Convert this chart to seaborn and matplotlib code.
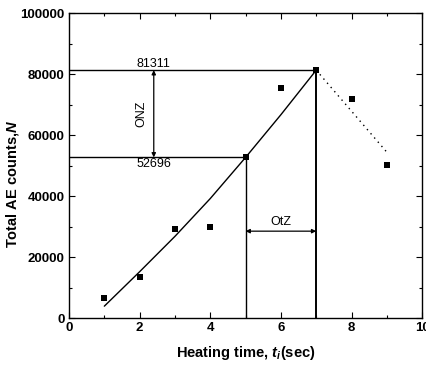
import matplotlib
matplotlib.use("Agg")
import matplotlib.pyplot as plt
import seaborn as sns
import pandas as pd
from matplotlib.ticker import MultipleLocator

# data
heating_time = [1, 2, 3, 4, 5, 6, 7, 8, 9]
ae_counts = [6500, 13400, 29200, 29800, 52696, 75600, 81311, 71800, 50200]
fit_x = [1, 2, 3, 4, 5, 6, 7]
fit_y = [3900, 15200, 26800, 39200, 52696, 66700, 81311]
drop_x = [7, 9]
drop_y = [81311, 54400]
level_hi = 81311
level_lo = 52696
t_lo = 5
t_hi = 7

sns.set_theme(style="ticks")
plt.rcParams['font.family'] = ['Liberation Sans', 'DejaVu Sans']
plt.rcParams['mathtext.fontset'] = 'custom'
plt.rcParams['mathtext.it'] = 'Liberation Sans:italic:bold'
plt.rcParams['mathtext.rm'] = 'Liberation Sans:bold'
for key in ['text.color', 'axes.labelcolor', 'xtick.color', 'ytick.color', 'axes.edgecolor']:
    plt.rcParams[key] = 'black'

fig = plt.figure(figsize=(4.26, 3.66), dpi=100)
ax = fig.add_axes([0.162, 0.131, 0.829, 0.833])

df = pd.DataFrame({"t": heating_time, "N": ae_counts})
sns.scatterplot(data=df, x="t", y="N", ax=ax, marker="s", s=22, color="black",
                edgecolor="black", linewidth=0, zorder=5)
sns.lineplot(x=fit_x, y=fit_y, ax=ax, color="black", linewidth=1.0)
sns.lineplot(x=drop_x, y=drop_y, ax=ax, color="black", linewidth=1.0, linestyle=(0, (1, 3)))

# guide lines
ax.plot([0, t_hi], [level_hi, level_hi], color="black", lw=1.0)
ax.plot([0, t_lo], [level_lo, level_lo], color="black", lw=1.0)
ax.plot([t_lo, t_lo], [0, level_lo], color="black", lw=1.0)
ax.plot([t_hi, t_hi], [0, level_hi], color="black", lw=1.4)

# arrows
ax.annotate("", xy=(2.4, level_hi), xytext=(2.4, level_lo),
            arrowprops=dict(arrowstyle="<|-|>", color="black", lw=0.9,
                            mutation_scale=6, shrinkA=0, shrinkB=0))
ax.annotate("", xy=(t_lo, 28500), xytext=(t_hi, 28500),
            arrowprops=dict(arrowstyle="<|-|>", color="black", lw=0.9,
                            mutation_scale=6, shrinkA=0, shrinkB=0))
ax.text(2.4, level_hi + 200, "81311", ha="center", va="bottom", fontsize=9)
ax.text(2.4, level_lo - 300, "52696", ha="center", va="top", fontsize=9)
ax.text(2.05, (level_hi + level_lo) / 2, "ONZ", rotation=90, ha="center", va="center", fontsize=9)
ax.text(6.0, 29500, "OtZ", ha="center", va="bottom", fontsize=9)

ax.set_xlim(0, 10)
ax.set_ylim(0, 100000)
ax.xaxis.set_major_locator(MultipleLocator(2))
ax.xaxis.set_minor_locator(MultipleLocator(1))
ax.yaxis.set_major_locator(MultipleLocator(20000))
ax.yaxis.set_minor_locator(MultipleLocator(10000))
ax.tick_params(which="both", direction="in", top=True, right=True, labelsize=9.5,
               width=0.8, pad=3, colors="black")
ax.tick_params(which="major", length=4)
ax.tick_params(which="minor", length=2)
for s in ax.spines.values():
    s.set_linewidth(1.0)
    s.set_color("black")
for lab in ax.get_xticklabels() + ax.get_yticklabels():
    lab.set_fontweight("bold")

ax.set_xlabel("Heating time, $t_i$(sec)", fontsize=10.5, fontweight="bold", color="black")
ax.set_ylabel("Total AE counts,$N$", fontsize=10.5, fontweight="bold", color="black")
ax.xaxis.set_label_coords(0.5, -0.085)
ax.yaxis.set_label_coords(-0.135, 0.44)

fig.savefig("out.png", dpi=100)
